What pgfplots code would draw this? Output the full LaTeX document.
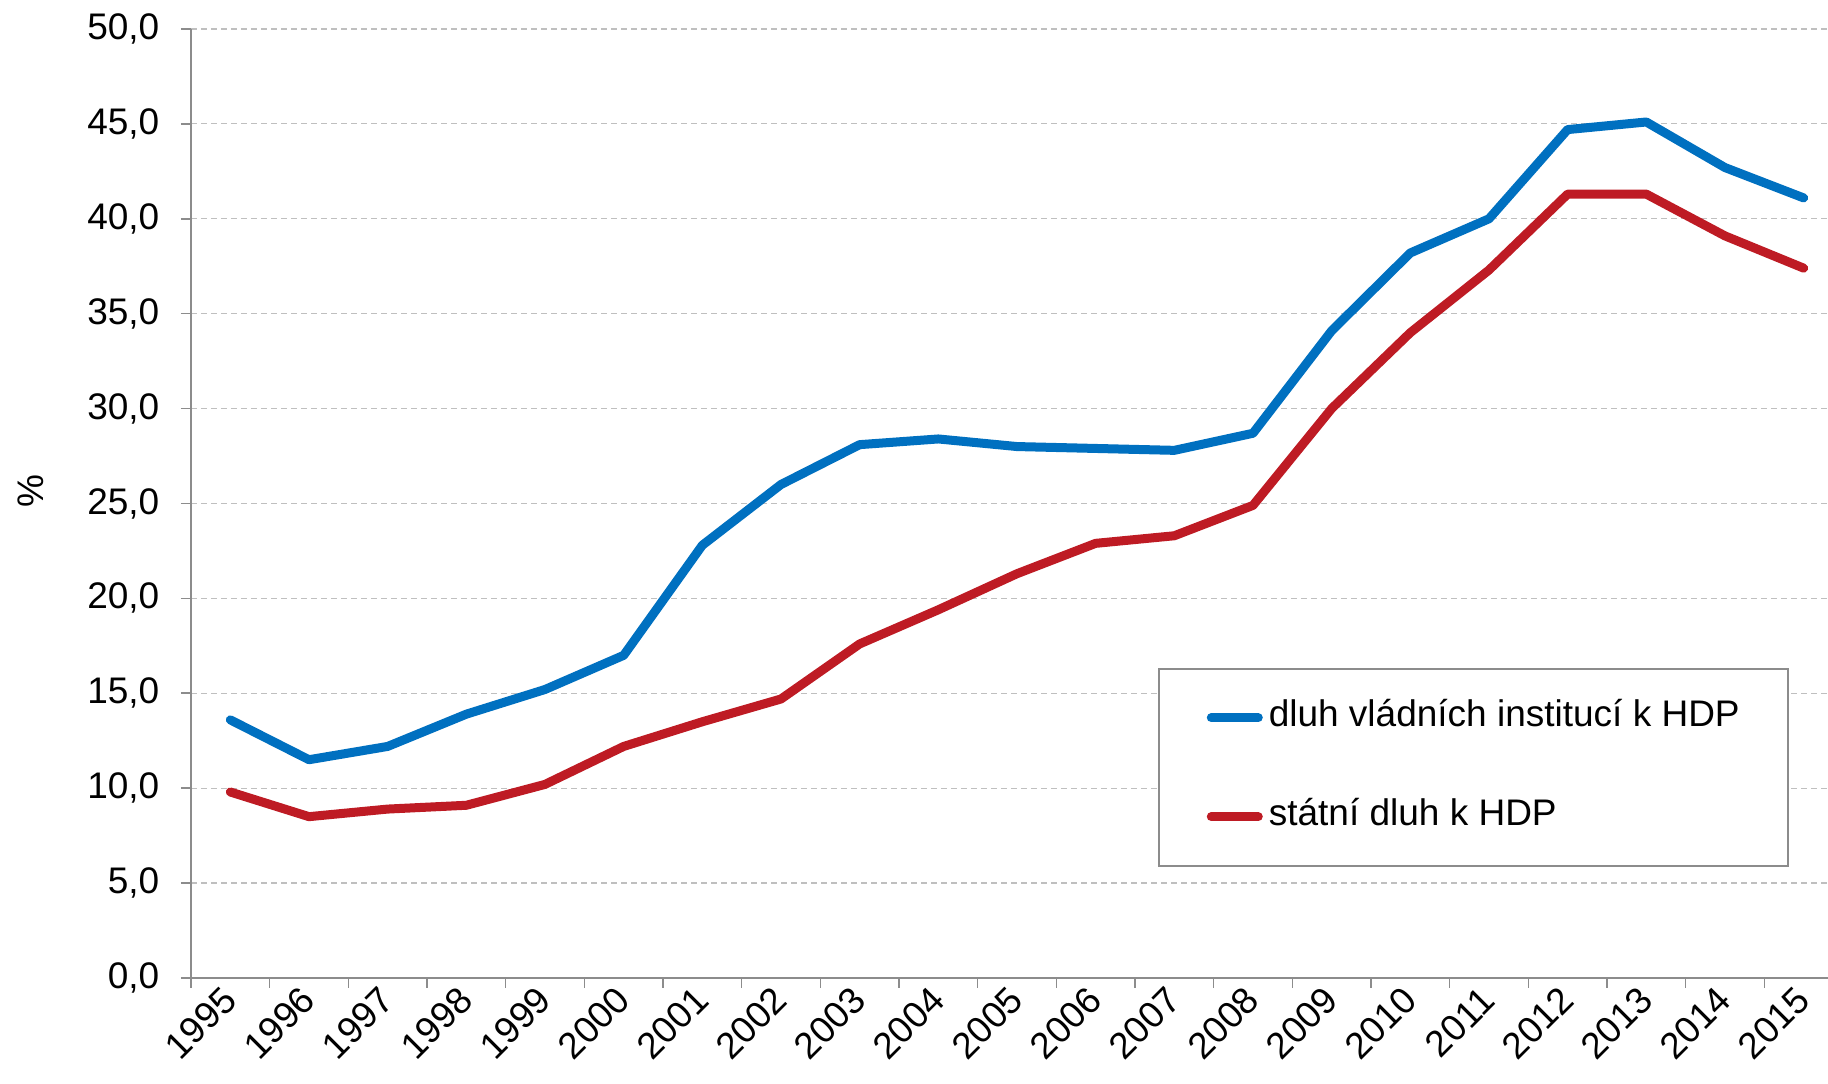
\documentclass[border=0pt]{standalone}
\usepackage{pgfplots}
\pgfplotsset{compat=1.18}
\usepackage{fontspec}
\setmainfont{Liberation Sans}
\definecolor{cblue}{HTML}{0070C0}
\definecolor{cred}{HTML}{BE1B24}
\definecolor{axgray}{HTML}{8C8C8C}
\definecolor{gridgray}{HTML}{BFBFBF}
\begin{document}
\fontsize{18.5pt}{22pt}\selectfont
\begin{tikzpicture}
\begin{axis}[name=ax, scale only axis, width=818.5pt, height=474.5pt,
  xmin=-0.5, xmax=20.31, ymin=0, ymax=50,
  axis x line*=bottom, axis y line*=left,
  ytick={0,5,...,50},
  ymajorgrids, grid style={gridgray, dash pattern=on 3pt off 2pt, line width=0.6pt},
  axis line style={axgray, line width=0.8pt},
  tick style={axgray, line width=0.8pt},
  tick align=outside, major tick length=5pt,
  xtick={-0.5,0.5,...,19.5}, xticklabels={},
  extra x ticks={0,1,...,20},
  extra x tick labels={1995,1996,1997,1998,1999,2000,2001,2002,2003,2004,2005,2006,2007,2008,2009,2010,2011,2012,2013,2014,2015},
  extra x tick style={major tick length=0pt, xticklabel style={xshift=-5pt, yshift=-3pt, rotate=45, anchor=north east, inner sep=0pt, font=\fontsize{18.5pt}{22pt}\selectfont}},
  yticklabel style={xshift=-4.5pt, /pgf/number format/fixed, /pgf/number format/fixed zerofill, /pgf/number format/precision=1, /pgf/number format/use comma},
  /pgf/number format/assume math mode=true,
  ticklabel style={font=\fontsize{18.5pt}{22pt}\selectfont},
  ylabel={\%},
  every axis y label/.style={at={(rel axis cs:0,0.513)}, anchor=center, xshift=-80pt, rotate=90, font=\fontsize{18.5pt}{22pt}\selectfont},
  legend style={at={(0.5907,0.3267)}, anchor=north west, draw=axgray, line width=0.8pt,
    inner xsep=24pt, inner ysep=16pt, row sep=32.5pt,
    nodes={inner sep=0pt, text height=13pt, text depth=4pt, font=\fontsize{18.5pt}{22pt}\selectfont},
    /tikz/every odd column/.append style={column sep=3pt}},
  legend cell align=left,
  legend image code/.code={\draw[#1, line cap=round] (0pt,0pt) -- (23.5pt,0pt);},
]
\addplot[cblue, line width=4.5pt, line join=round, line cap=round] coordinates {
(0,13.6) (1,11.5) (2,12.2) (3,13.9) (4,15.2) (5,17.0) (6,22.8) (7,26.0) (8,28.1) (9,28.4)
(10,28.0) (11,27.9) (12,27.8) (13,28.7) (14,34.1) (15,38.2) (16,40.0) (17,44.7) (18,45.1) (19,42.7) (20,41.1)};
\addlegendentry{dluh vládních institucí k HDP\hspace{4.5pt}}
\addplot[cred, line width=4.5pt, line join=round, line cap=round] coordinates {
(0,9.8) (1,8.5) (2,8.9) (3,9.1) (4,10.2) (5,12.2) (6,13.5) (7,14.7) (8,17.6) (9,19.4)
(10,21.3) (11,22.9) (12,23.3) (13,24.9) (14,30.0) (15,34.0) (16,37.3) (17,41.3) (18,41.3) (19,39.1) (20,37.4)};
\addlegendentry{státní dluh k HDP}
\end{axis}
\pgfresetboundingbox
\path[use as bounding box] ([xshift=-95.5pt,yshift=-53pt]ax.south west) rectangle ([yshift=14.5pt]ax.north east);
\end{tikzpicture}
\end{document}
